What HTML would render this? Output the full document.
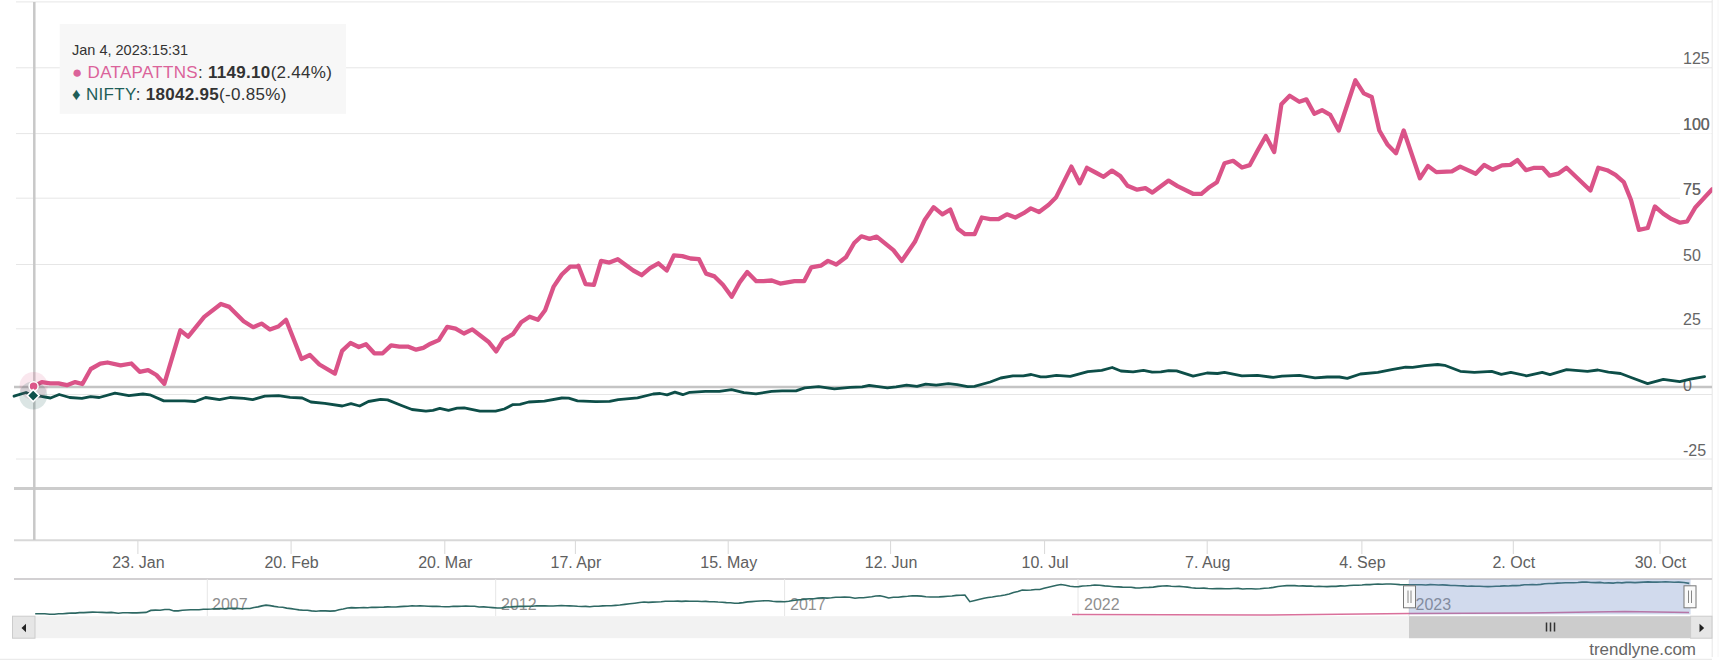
<!DOCTYPE html>
<html><head><meta charset="utf-8"><style>
html,body{margin:0;padding:0;background:#fff;width:1722px;height:670px;overflow:hidden}
svg{display:block;font-family:"Liberation Sans", sans-serif}
</style></head><body>
<svg width="1722" height="670" viewBox="0 0 1722 670">
<line x1="16" y1="1.9" x2="1712" y2="1.9" stroke="#e6e6e6" stroke-width="1"/>
<line x1="16" y1="67.8" x2="1712" y2="67.8" stroke="#e6e6e6" stroke-width="1"/>
<line x1="16" y1="133.6" x2="1712" y2="133.6" stroke="#e6e6e6" stroke-width="1"/>
<line x1="16" y1="198.2" x2="1712" y2="198.2" stroke="#e6e6e6" stroke-width="1"/>
<line x1="16" y1="264.5" x2="1712" y2="264.5" stroke="#e6e6e6" stroke-width="1"/>
<line x1="16" y1="328.8" x2="1712" y2="328.8" stroke="#e6e6e6" stroke-width="1"/>
<line x1="16" y1="394.5" x2="1712" y2="394.5" stroke="#e6e6e6" stroke-width="1"/>
<line x1="16" y1="459.0" x2="1712" y2="459.0" stroke="#e6e6e6" stroke-width="1"/>
<line x1="1712.2" y1="0" x2="1712.2" y2="657" stroke="#e6e6e6" stroke-width="1"/>
<line x1="1718" y1="0" x2="1718" y2="657" stroke="#f6f6f6" stroke-width="1"/>
<line x1="14" y1="387.1" x2="1712" y2="387.1" stroke="#c4c4c4" stroke-width="2.5"/>
<text x="1683" y="63.8" font-size="16" fill="#666">125</text>
<text x="1683" y="129.7" font-size="16" fill="#666">100</text>
<text x="1683" y="194.8" font-size="16" fill="#666">75</text>
<text x="1683" y="261" font-size="16" fill="#666">50</text>
<text x="1683" y="324.8" font-size="16" fill="#666">25</text>
<text x="1683" y="390.6" font-size="16" fill="#666">0</text>
<text x="1683" y="455.6" font-size="16" fill="#666">-25</text>
<rect x="1680" y="196" width="31.5" height="4" fill="#fff"/>
<rect x="1680" y="131.5" width="31.5" height="4" fill="#ffffff" fill-opacity="0.7"/>
<text x="1683" y="194.8" font-size="16" fill="#666">75</text>
<text x="1683" y="129.7" font-size="16" fill="#666">100</text>
<line x1="14" y1="488.4" x2="1712" y2="488.4" stroke="#cccccc" stroke-width="3"/>
<line x1="14" y1="540.2" x2="1712" y2="540.2" stroke="#d8d8d8" stroke-width="2"/>
<line x1="137.9" y1="540" x2="137.9" y2="554" stroke="#d8d8d8" stroke-width="1"/>
<text x="138.4" y="568" font-size="16" fill="#606060" text-anchor="middle">23. Jan</text>
<line x1="291.1" y1="540" x2="291.1" y2="554" stroke="#d8d8d8" stroke-width="1"/>
<text x="291.6" y="568" font-size="16" fill="#606060" text-anchor="middle">20. Feb</text>
<line x1="444.8" y1="540" x2="444.8" y2="554" stroke="#d8d8d8" stroke-width="1"/>
<text x="445.3" y="568" font-size="16" fill="#606060" text-anchor="middle">20. Mar</text>
<line x1="575.4" y1="540" x2="575.4" y2="554" stroke="#d8d8d8" stroke-width="1"/>
<text x="575.9" y="568" font-size="16" fill="#606060" text-anchor="middle">17. Apr</text>
<line x1="728.2" y1="540" x2="728.2" y2="554" stroke="#d8d8d8" stroke-width="1"/>
<text x="728.7" y="568" font-size="16" fill="#606060" text-anchor="middle">15. May</text>
<line x1="890.6" y1="540" x2="890.6" y2="554" stroke="#d8d8d8" stroke-width="1"/>
<text x="891.1" y="568" font-size="16" fill="#606060" text-anchor="middle">12. Jun</text>
<line x1="1044.6" y1="540" x2="1044.6" y2="554" stroke="#d8d8d8" stroke-width="1"/>
<text x="1045.1" y="568" font-size="16" fill="#606060" text-anchor="middle">10. Jul</text>
<line x1="1207.2" y1="540" x2="1207.2" y2="554" stroke="#d8d8d8" stroke-width="1"/>
<text x="1207.7" y="568" font-size="16" fill="#606060" text-anchor="middle">7. Aug</text>
<line x1="1361.9" y1="540" x2="1361.9" y2="554" stroke="#d8d8d8" stroke-width="1"/>
<text x="1362.4" y="568" font-size="16" fill="#606060" text-anchor="middle">4. Sep</text>
<line x1="1513.3" y1="540" x2="1513.3" y2="554" stroke="#d8d8d8" stroke-width="1"/>
<text x="1513.8" y="568" font-size="16" fill="#606060" text-anchor="middle">2. Oct</text>
<line x1="1660" y1="540" x2="1660" y2="554" stroke="#d8d8d8" stroke-width="1"/>
<text x="1660.5" y="568" font-size="16" fill="#606060" text-anchor="middle">30. Oct</text>
<line x1="34.3" y1="2" x2="34.3" y2="540" stroke="#c8c8c8" stroke-width="2.5"/>
<defs><clipPath id="pc"><rect x="14" y="0" width="1698.2" height="540"/></clipPath></defs>
<path d="M14.0 396.2 L26.0 392.5 L33.2 395.6 L40.0 396.2 L50.5 398.0 L59.2 394.5 L69.7 397.5 L81.9 398.3 L90.6 396.6 L99.3 397.5 L115.0 393.1 L128.9 395.7 L142.9 394.0 L149.8 394.8 L163.8 400.9 L174.2 400.9 L184.7 400.9 L195.1 401.5 L205.6 397.5 L219.5 399.7 L230.0 397.5 L243.9 398.3 L252.6 399.7 L264.8 396.2 L278.7 395.7 L290.0 397.3 L302.2 398.0 L310.9 402.0 L324.8 403.4 L342.3 406.0 L351.0 403.7 L359.7 406.0 L368.4 401.5 L380.6 399.4 L387.6 399.9 L401.5 405.5 L412.0 409.5 L425.9 411.1 L432.9 410.4 L439.8 408.4 L448.5 410.4 L457.2 408.1 L464.2 407.8 L479.9 411.1 L495.6 411.2 L504.3 409.0 L513.0 404.6 L520.0 404.3 L528.7 402.0 L544.4 401.1 L561.8 398.0 L568.7 398.2 L577.5 400.8 L595.7 401.7 L609.6 401.4 L618.3 399.6 L637.5 397.9 L653.2 394.0 L660.1 393.5 L667.1 394.9 L674.9 392.1 L682.8 394.7 L689.8 392.3 L705.4 391.3 L719.4 391.4 L731.6 389.7 L743.8 392.6 L756.0 393.9 L771.6 391.3 L782.1 390.9 L796.0 390.9 L804.7 387.9 L818.7 386.6 L834.4 388.8 L850.0 387.4 L862.2 386.9 L869.2 385.3 L887.4 387.8 L896.1 386.9 L906.6 385.1 L917.0 386.4 L925.7 384.1 L936.2 385.1 L948.4 383.7 L957.1 384.6 L967.6 386.7 L974.5 386.4 L990.2 382.0 L1000.7 378.0 L1012.9 375.9 L1023.3 375.9 L1031.2 374.5 L1040.7 376.8 L1046.0 376.8 L1056.4 375.4 L1070.3 376.3 L1087.8 371.6 L1101.7 370.3 L1112.2 367.5 L1120.9 371.0 L1133.1 371.9 L1143.5 370.3 L1152.2 372.1 L1160.9 371.9 L1168.7 370.6 L1176.6 370.9 L1193.1 376.1 L1207.0 373.0 L1217.5 373.5 L1224.5 372.3 L1241.9 375.8 L1257.6 375.3 L1273.2 377.4 L1282.0 376.1 L1299.4 375.3 L1315.1 377.9 L1327.2 377.0 L1339.4 377.0 L1347.3 378.4 L1360.3 374.0 L1377.8 372.3 L1391.7 369.7 L1405.6 367.1 L1412.6 367.4 L1424.8 365.7 L1437.7 364.5 L1444.6 365.3 L1460.3 371.3 L1474.3 372.3 L1491.7 371.3 L1501.3 374.4 L1510.9 372.3 L1526.5 375.8 L1542.2 372.3 L1550.0 374.7 L1566.6 369.7 L1587.5 371.3 L1597.9 370.0 L1608.4 372.1 L1620.6 373.5 L1631.1 377.5 L1647.6 383.6 L1663.3 379.3 L1679.8 381.7 L1690.3 379.1 L1704.6 376.7" fill="none" stroke="#0d4e48" stroke-width="2.8" stroke-linejoin="round" stroke-linecap="round"/>
<path d="M33.6 386.3 L41.8 382.1 L50.2 383.3 L58.5 383.3 L66.9 385.2 L75.2 382.1 L82.4 384.0 L90.8 369.0 L100.3 363.7 L107.5 362.5 L120.6 365.4 L131.4 363.5 L139.7 371.8 L148.1 370.2 L156.4 375.0 L164.3 383.8 L180.3 330.3 L188.2 336.7 L204.2 316.9 L220.9 304.0 L229.3 306.9 L243.6 321.2 L253.2 327.2 L261.5 323.6 L269.9 329.6 L278.3 326.5 L286.0 319.8 L301.5 359.0 L309.9 355.0 L319.4 364.5 L334.9 373.6 L342.1 350.9 L350.5 343.0 L358.8 347.0 L366.0 344.2 L374.3 353.3 L382.7 353.3 L391.1 345.4 L399.4 346.6 L407.8 346.6 L416.1 349.7 L423.3 347.8 L430.5 343.7 L438.8 340.1 L447.2 326.8 L455.6 328.7 L463.9 333.5 L472.3 329.4 L480.6 335.8 L489.0 342.3 L496.2 351.4 L503.3 339.9 L512.9 334.2 L521.2 322.2 L529.6 316.7 L538.0 319.8 L545.1 310.3 L553.5 286.9 L561.8 274.5 L570.2 266.6 L577.4 266.6 L578.4 265.7 L585.5 284.1 L593.9 284.8 L601.1 260.9 L609.4 262.6 L617.8 259.2 L633.3 270.5 L641.7 275.2 L650.0 268.1 L658.4 263.3 L666.7 270.5 L673.9 255.4 L682.3 256.1 L690.6 258.5 L699.0 259.2 L706.1 273.6 L714.5 276.4 L722.9 284.8 L731.7 296.7 L739.6 282.4 L747.2 272.1 L756.3 281.2 L763.5 281.2 L771.8 280.5 L780.2 283.6 L794.5 281.2 L804.1 281.2 L811.2 267.4 L820.8 265.7 L828.0 260.9 L836.3 264.5 L845.9 257.3 L854.2 243.0 L861.4 236.3 L869.6 238.9 L876.7 236.6 L893.4 250.2 L901.8 260.9 L914.9 241.8 L924.5 220.3 L933.6 207.2 L942.4 214.3 L950.3 209.6 L957.9 228.7 L965.1 234.2 L974.6 234.2 L981.8 217.5 L990.2 219.1 L998.5 219.1 L1006.9 214.3 L1015.3 217.5 L1023.6 213.2 L1030.8 208.4 L1039.1 212.0 L1048.7 204.8 L1055.9 197.6 L1071.4 166.6 L1079.7 183.3 L1086.9 167.8 L1096.5 173.0 L1103.6 176.8 L1112.0 170.6 L1120.3 176.1 L1127.5 185.7 L1137.1 189.7 L1145.4 188.1 L1152.4 192.6 L1168.6 180.6 L1177.5 186.1 L1193.0 193.8 L1201.4 193.8 L1208.5 187.8 L1216.9 182.3 L1224.5 163.2 L1233.1 160.8 L1242.0 167.5 L1249.8 165.1 L1257.5 150.8 L1265.8 136.0 L1274.2 152.0 L1281.4 104.2 L1289.7 95.8 L1299.3 101.8 L1306.4 99.4 L1314.3 113.7 L1322.0 110.2 L1330.3 114.9 L1338.7 130.5 L1355.4 80.3 L1363.8 93.4 L1371.7 97.0 L1379.3 130.5 L1387.7 144.8 L1396.0 153.2 L1403.7 130.5 L1419.9 178.2 L1428.0 165.9 L1436.3 172.1 L1451.9 171.4 L1460.2 166.6 L1475.7 173.7 L1484.1 164.9 L1492.5 169.7 L1502.0 165.4 L1510.4 164.9 L1517.5 160.1 L1525.9 170.2 L1534.3 167.8 L1542.6 167.8 L1549.8 175.7 L1558.1 173.7 L1566.5 167.8 L1590.4 190.5 L1598.3 167.8 L1607.1 170.2 L1615.5 174.9 L1623.8 182.1 L1631.0 200.0 L1638.9 229.9 L1647.7 228.0 L1654.9 206.5 L1663.2 213.6 L1671.6 219.1 L1680.0 222.7 L1687.1 221.5 L1695.5 207.2 L1712.2 189.3" fill="none" stroke="#da5388" stroke-width="4.3" stroke-linejoin="round" stroke-linecap="round" clip-path="url(#pc)"/>
<circle cx="33.6" cy="386" r="14" fill="#dc5589" fill-opacity="0.14"/>
<circle cx="33.2" cy="395.5" r="14" fill="#0e524c" fill-opacity="0.15"/>
<circle cx="33.6" cy="386.3" r="4.5" fill="#dc5589" stroke="#fff" stroke-width="1.5"/>
<path d="M33.2 389.6 L39.2 395.6 L33.2 401.6 L27.2 395.6 Z" fill="#0e524c" stroke="#fff" stroke-width="1.5"/>
<line x1="14" y1="579" x2="1712" y2="579" stroke="#d2d0d2" stroke-width="2"/>
<line x1="207.3" y1="579" x2="207.3" y2="616" stroke="#e6e6e6" stroke-width="1"/>
<line x1="495.7" y1="579" x2="495.7" y2="616" stroke="#e6e6e6" stroke-width="1"/>
<line x1="784.6" y1="579" x2="784.6" y2="616" stroke="#e6e6e6" stroke-width="1"/>
<line x1="1078" y1="579" x2="1078" y2="616" stroke="#e6e6e6" stroke-width="1"/>
<line x1="1409" y1="579" x2="1409" y2="616" stroke="#e6e6e6" stroke-width="1"/>
<text x="212" y="609.5" font-size="16" fill="#8f8f8f">2007</text>
<text x="501" y="609.5" font-size="16" fill="#8f8f8f">2012</text>
<text x="790" y="609.5" font-size="16" fill="#8f8f8f">2017</text>
<text x="1084" y="609.5" font-size="16" fill="#8f8f8f">2022</text>
<text x="1415.5" y="609.5" font-size="16" fill="#8f8f8f">2023</text>
<path d="M35.2 613.8 L40.0 613.8 L44.8 613.8 L49.6 614.2 L54.4 614.2 L58.6 613.7 L62.8 613.8 L67.0 613.4 L71.2 613.0 L75.4 613.1 L79.6 612.6 L83.8 612.6 L88.0 612.4 L92.7 612.1 L97.3 612.2 L102.0 612.4 L106.6 612.6 L111.3 612.4 L118.3 613.2 L122.9 612.8 L127.6 612.8 L132.2 612.9 L136.8 612.9 L141.5 612.6 L146.1 612.4 L150.8 610.4 L155.5 610.1 L160.1 610.2 L164.8 609.5 L169.4 609.5 L174.0 610.9 L178.2 610.9 L182.4 610.3 L186.5 610.0 L190.7 609.8 L194.9 609.7 L199.1 609.8 L203.3 609.2 L207.4 609.2 L211.6 609.0 L215.8 608.7 L220.1 608.6 L224.4 608.7 L228.6 608.4 L232.9 608.3 L237.2 608.4 L241.4 608.7 L245.7 608.5 L250.0 608.5 L254.0 607.5 L258.0 606.9 L262.0 605.9 L266.0 605.1 L270.1 605.6 L274.3 606.4 L278.4 607.0 L282.6 607.3 L286.7 608.1 L290.9 608.6 L295.0 609.2 L299.1 609.9 L303.2 610.2 L307.4 610.3 L311.5 610.9 L316.1 611.2 L320.8 610.7 L325.4 610.9 L330.1 611.1 L334.7 610.9 L339.0 609.7 L343.2 609.0 L347.5 608.0 L351.5 607.6 L355.6 607.9 L359.6 607.8 L363.7 607.6 L367.7 607.7 L371.7 607.2 L375.8 607.4 L379.8 607.2 L383.8 607.1 L387.9 606.9 L391.9 607.0 L396.0 607.0 L400.0 606.6 L404.0 606.4 L408.0 606.3 L412.0 605.8 L416.0 606.0 L420.0 605.7 L424.2 606.0 L428.3 606.3 L432.5 606.4 L436.7 606.2 L440.8 606.5 L445.0 606.7 L449.2 606.7 L453.3 606.2 L457.5 606.4 L461.7 606.2 L465.8 606.1 L470.0 606.2 L474.6 606.2 L479.1 607.0 L483.7 606.9 L488.3 607.2 L492.8 607.6 L497.4 608.0 L501.9 607.9 L506.4 607.0 L510.9 606.9 L515.4 606.6 L519.9 606.2 L524.1 606.4 L528.2 606.3 L532.4 606.3 L536.5 605.8 L540.7 605.9 L544.8 605.8 L549.0 606.0 L553.1 606.0 L557.3 605.7 L561.4 605.6 L565.4 605.8 L569.5 605.9 L573.5 606.0 L577.6 606.3 L581.7 606.5 L585.7 606.4 L589.8 606.7 L594.1 606.2 L598.4 606.2 L602.7 605.9 L606.9 605.8 L611.2 605.8 L615.5 605.4 L619.8 605.0 L624.8 604.4 L629.8 603.8 L634.7 603.2 L639.7 602.5 L644.0 602.0 L648.3 602.4 L652.6 602.1 L656.8 602.0 L661.1 601.8 L665.4 601.3 L669.7 601.2 L673.7 601.2 L677.7 601.1 L681.7 601.4 L685.7 601.1 L689.7 601.2 L693.7 601.3 L697.7 601.3 L701.7 601.5 L705.7 601.4 L709.7 601.7 L713.9 601.7 L718.0 602.0 L722.2 602.2 L726.3 602.6 L730.5 602.7 L734.6 603.2 L738.9 603.1 L743.2 602.6 L747.5 601.9 L751.7 601.6 L756.0 601.3 L760.3 601.0 L764.6 600.7 L768.6 600.7 L772.6 601.3 L776.6 601.6 L780.6 601.5 L784.6 601.7 L788.8 601.2 L792.9 600.5 L797.0 600.0 L801.2 599.6 L805.4 599.1 L809.5 598.7 L813.9 598.7 L818.2 598.1 L822.6 597.8 L827.0 598.1 L831.4 597.7 L835.8 597.2 L840.1 597.2 L844.5 597.0 L849.8 597.3 L855.0 598.2 L859.2 597.8 L863.3 597.7 L867.5 597.2 L871.7 596.7 L875.8 596.0 L880.0 595.7 L884.4 596.8 L888.7 598.0 L893.4 597.3 L898.2 597.2 L902.9 596.6 L907.7 596.3 L912.4 595.7 L916.9 595.9 L921.4 596.1 L925.9 596.7 L930.4 597.0 L934.9 597.0 L939.2 596.9 L943.5 596.6 L947.8 596.3 L952.0 596.0 L956.3 595.4 L960.6 595.3 L964.9 595.0 L969.8 601.7 L974.8 600.4 L979.8 599.2 L984.0 598.2 L988.1 597.5 L992.3 597.0 L996.5 596.3 L1000.6 595.8 L1004.8 595.0 L1009.2 594.0 L1013.5 592.5 L1017.9 591.5 L1022.3 590.0 L1026.7 590.2 L1031.0 590.0 L1035.4 589.5 L1039.8 589.5 L1044.0 588.3 L1048.3 587.3 L1052.5 586.3 L1056.8 585.3 L1061.0 584.5 L1065.6 585.3 L1070.1 586.2 L1074.7 586.7 L1078.7 586.6 L1082.7 586.0 L1086.7 585.8 L1090.7 585.5 L1094.7 585.0 L1099.7 585.2 L1104.7 585.9 L1109.7 586.2 L1114.0 586.7 L1118.2 586.9 L1122.5 587.1 L1126.8 587.2 L1131.1 587.3 L1135.3 587.9 L1139.6 588.0 L1144.2 587.5 L1148.8 587.4 L1153.3 587.1 L1157.9 586.4 L1162.5 586.0 L1167.1 585.7 L1171.2 586.3 L1175.2 586.5 L1179.3 586.4 L1183.3 586.7 L1187.4 587.1 L1191.5 587.8 L1195.5 588.1 L1199.6 588.2 L1203.9 588.1 L1208.1 588.5 L1212.4 588.7 L1216.7 588.6 L1221.0 588.5 L1225.2 588.7 L1229.5 588.7 L1233.9 588.5 L1238.2 588.4 L1242.6 589.0 L1246.9 588.8 L1251.3 588.8 L1255.6 589.0 L1260.0 588.8 L1264.5 588.2 L1268.9 588.0 L1273.4 587.4 L1277.9 586.5 L1282.3 586.0 L1286.8 585.6 L1290.8 585.6 L1294.8 585.6 L1298.9 586.0 L1302.9 585.9 L1306.9 586.1 L1310.9 586.0 L1314.9 586.5 L1319.0 586.3 L1323.0 586.5 L1327.0 586.6 L1331.5 586.4 L1336.0 586.4 L1340.5 585.9 L1344.9 586.0 L1349.4 585.5 L1353.9 585.3 L1357.9 585.2 L1362.0 585.0 L1366.0 584.5 L1370.0 584.6 L1374.0 584.3 L1378.0 584.0 L1382.1 584.3 L1386.1 584.0 L1390.7 584.0 L1395.2 584.3 L1399.8 584.6 L1404.3 584.7 L1408.9 584.8 L1413.2 584.7 L1417.4 584.8 L1421.7 584.8 L1425.9 585.0 L1430.2 584.6 L1434.4 584.8 L1438.5 585.0 L1442.6 584.9 L1446.8 585.1 L1450.9 585.5 L1455.0 585.5 L1459.1 585.7 L1463.3 585.9 L1467.4 586.2 L1471.5 586.0 L1475.6 586.3 L1479.8 586.3 L1483.9 586.5 L1488.0 586.6 L1492.0 586.5 L1496.1 586.2 L1500.1 586.1 L1504.1 585.9 L1508.2 586.0 L1512.2 585.6 L1516.2 585.6 L1520.2 585.4 L1524.3 584.8 L1528.3 584.8 L1532.4 584.6 L1536.6 584.7 L1540.7 584.4 L1544.8 583.8 L1549.0 583.5 L1553.1 583.5 L1557.2 583.1 L1561.3 583.0 L1565.5 582.7 L1569.6 582.8 L1573.7 582.7 L1577.9 582.5 L1582.0 582.1 L1586.5 582.0 L1590.9 582.5 L1595.4 582.6 L1599.9 582.4 L1604.3 583.0 L1608.8 582.9 L1613.2 583.1 L1617.5 582.5 L1621.9 582.9 L1626.2 582.4 L1630.6 582.4 L1635.0 582.6 L1639.3 582.4 L1643.7 582.1 L1648.1 581.9 L1652.4 582.1 L1656.8 582.1 L1661.2 582.0 L1665.5 581.9 L1669.9 582.0 L1674.2 582.2 L1678.6 582.1 L1683.9 582.5 L1689.3 583.4" fill="none" stroke="#2e6863" stroke-width="1.6"/>
<path d="M1072.0 614.5 L1260.0 615.0 L1409.0 613.5 L1528.0 612.9 L1625.0 611.6 L1689.0 612.4" fill="none" stroke="#d9709b" stroke-width="1.5"/>
<rect x="1409" y="579.4" width="281.6" height="35" fill="rgba(102,133,194,0.3)"/>
<rect x="1403.5" y="585.8" width="12" height="22" fill="#fafafa" stroke="#777" stroke-width="1"/>
<line x1="1408.0" y1="590.5" x2="1408.0" y2="603" stroke="#888" stroke-width="1"/>
<line x1="1411.0" y1="590.5" x2="1411.0" y2="603" stroke="#888" stroke-width="1"/>
<rect x="1684" y="585.8" width="12" height="22" fill="#fafafa" stroke="#777" stroke-width="1"/>
<line x1="1688.5" y1="590.5" x2="1688.5" y2="603" stroke="#888" stroke-width="1"/>
<line x1="1691.5" y1="590.5" x2="1691.5" y2="603" stroke="#888" stroke-width="1"/>
<rect x="12.5" y="616.2" width="1699.5" height="22" fill="#f2f2f2"/>
<rect x="12.5" y="616.2" width="22.5" height="22" fill="#e6e6e6" stroke="#cccccc" stroke-width="1"/>
<path d="M21.5 628 L26 623.8 L26 632.2 Z" fill="#222"/>
<rect x="1409" y="616.2" width="281.6" height="22" fill="#cccccc"/>
<rect x="1690.6" y="616.2" width="21.4" height="22" fill="#e6e6e6" stroke="#cccccc" stroke-width="1"/>
<path d="M1704.2 628 L1699.5 623.8 L1699.5 632.2 Z" fill="#222"/>
<line x1="1546.5" y1="622.5" x2="1546.5" y2="631.5" stroke="#333" stroke-width="1.5"/>
<line x1="1550.5" y1="622.5" x2="1550.5" y2="631.5" stroke="#333" stroke-width="1.5"/>
<line x1="1554.5" y1="622.5" x2="1554.5" y2="631.5" stroke="#333" stroke-width="1.5"/>
<rect x="59.7" y="23.9" width="286.3" height="89.9" fill="#f7f7f7"/>
<text x="72" y="55" font-size="14.5" fill="#333">Jan 4, 2023:15:31</text>
<text x="72" y="77.8" font-size="17" fill="#333" letter-spacing="0.3"><tspan fill="#db639a">● DATAPATTNS</tspan>: <tspan font-weight="bold">1149.10</tspan>(2.44%)</text>
<text x="72" y="99.6" font-size="17" fill="#333" letter-spacing="0.3"><tspan fill="#1f5e58">♦ NIFTY</tspan>: <tspan font-weight="bold">18042.95</tspan>(-0.85%)</text>
<text x="1696" y="655" font-size="17" fill="#666" text-anchor="end">trendlyne.com</text>
<line x1="0" y1="659.3" x2="1712" y2="659.3" stroke="#e6e6e6" stroke-width="1"/>
</svg>
</body></html>
